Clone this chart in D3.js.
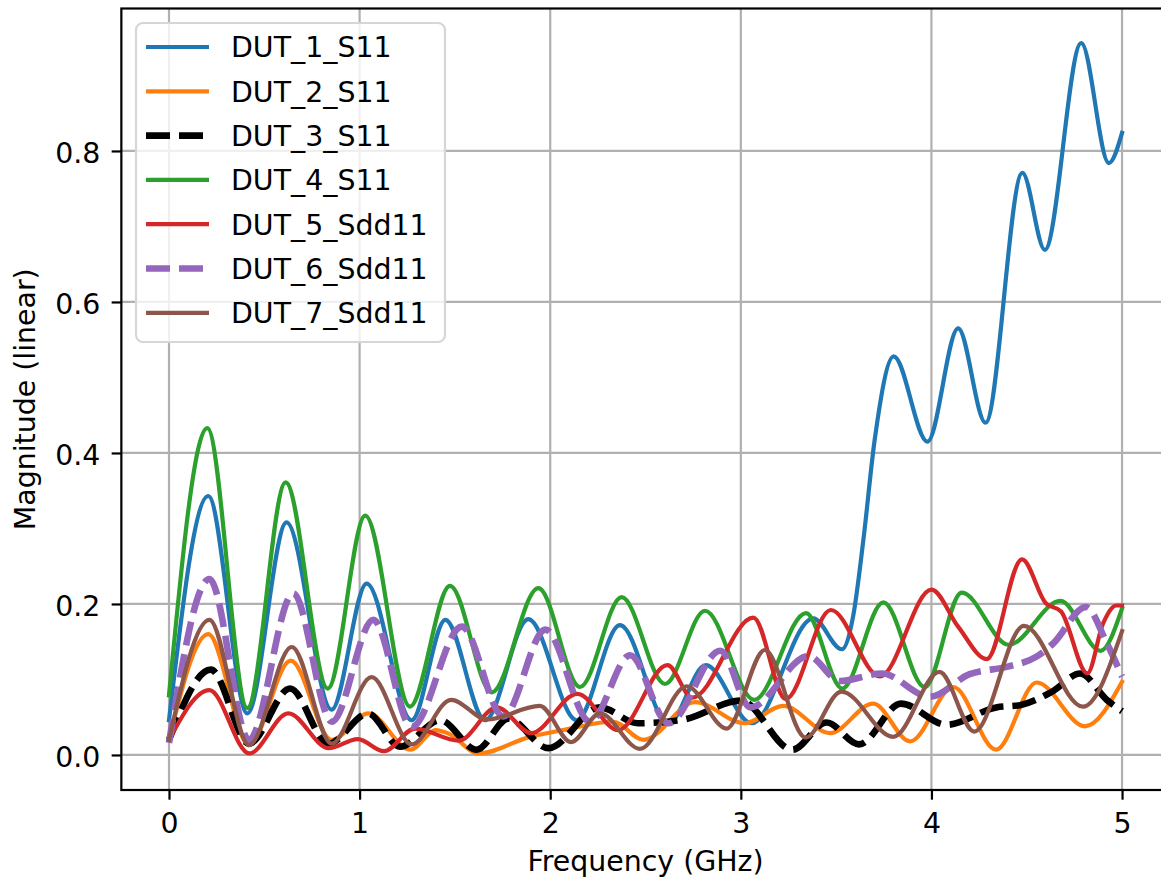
<!DOCTYPE html>
<html>
<head>
<meta charset="utf-8">
<script src="https://cdn.jsdelivr.net/npm/d3@7"></script>
<style>
  html, body { margin: 0; padding: 0; background: #ffffff; }
  svg { display: block; }
  text { font-family: "DejaVu Sans", sans-serif; fill: #000; }
</style>
</head>
<body>
<svg id="chart" width="1161" height="878"></svg>
<script>
// ---------------- data (frequency in GHz, linear magnitude) ----------------
const seriesNames = ["DUT_1_S11", "DUT_2_S11", "DUT_3_S11", "DUT_4_S11", "DUT_5_Sdd11", "DUT_6_Sdd11", "DUT_7_Sdd11"];

const DUT_1_S11 = [[0,0.046],[0.206,0.343],[0.411,0.055],[0.617,0.308],[0.853,0.060],[1.037,0.227],[1.273,0.046],[1.45,0.179],[1.658,0.046],[1.885,0.180],[2.139,0.046],[2.366,0.172],[2.62,0.042],[2.816,0.119],[3.057,0.042],[3.38,0.181],[3.53,0.140],[3.59,0.185],[3.643,0.285],[3.702,0.417],[3.802,0.528],[3.979,0.415],[4.140,0.565],[4.284,0.440],[4.477,0.771],[4.595,0.669],[4.786,0.943],[4.931,0.784],[5.0,0.824]];

const DUT_2_S11 = [[0,0.020],[0.206,0.160],[0.42,0.013],[0.638,0.125],[0.853,0.020],[1.046,0.055],[1.266,0.007],[1.40,0.033],[1.47,0.028],[1.623,0.002],[1.894,0.024],[2.067,0.033],[2.33,0.044],[2.49,0.020],[2.76,0.070],[3.02,0.042],[3.223,0.065],[3.468,0.029],[3.695,0.068],[3.888,0.018],[4.115,0.090],[4.339,0.007],[4.552,0.096],[4.806,0.038],[5.0,0.097]];

const DUT_3_S11 = [[0,0.020],[0.219,0.113],[0.42,0.015],[0.635,0.088],[0.836,0.015],[1.045,0.055],[1.212,0.011],[1.422,0.046],[1.614,0.007],[1.78,0.048],[1.99,0.009],[2.26,0.063],[2.46,0.042],[2.7,0.047],[3.0,0.072],[3.27,0.007],[3.45,0.043],[3.62,0.014],[3.84,0.068],[4.08,0.040],[4.34,0.063],[4.465,0.066],[4.64,0.085],[4.78,0.108],[4.92,0.073],[5.0,0.058]];

const DUT_4_S11 = [[0,0.079],[0.201,0.433],[0.411,0.062],[0.612,0.361],[0.833,0.088],[1.03,0.317],[1.264,0.064],[1.474,0.224],[1.693,0.083],[1.938,0.221],[2.156,0.090],[2.375,0.209],[2.602,0.094],[2.812,0.191],[3.07,0.073],[3.342,0.188],[3.532,0.088],[3.748,0.202],[3.965,0.090],[4.159,0.215],[4.405,0.146],[4.677,0.204],[4.887,0.138],[5.0,0.194]];

const DUT_5_Sdd11 = [[0,0.020],[0.212,0.086],[0.421,0.002],[0.626,0.055],[0.838,0.009],[0.99,0.021],[1.128,0.005],[1.29,0.035],[1.52,0.019],[1.72,0.063],[1.90,0.029],[2.142,0.081],[2.357,0.033],[2.615,0.119],[2.745,0.076],[3.066,0.182],[3.235,0.074],[3.472,0.192],[3.73,0.104],[4.0,0.219],[4.14,0.170],[4.29,0.127],[4.475,0.259],[4.60,0.201],[4.68,0.190],[4.818,0.108],[4.90,0.174],[4.97,0.198],[5.0,0.198]];

const DUT_6_Sdd11 = [[0,0.016],[0.212,0.233],[0.42,0.020],[0.652,0.214],[0.854,0.044],[1.072,0.179],[1.273,0.037],[1.536,0.170],[1.754,0.051],[1.975,0.166],[2.209,0.044],[2.419,0.132],[2.62,0.042],[2.893,0.138],[3.05,0.063],[3.355,0.131],[3.52,0.098],[3.74,0.108],[3.99,0.077],[4.2,0.107],[4.4,0.117],[4.55,0.130],[4.64,0.148],[4.81,0.196],[4.92,0.148],[5.0,0.104]];

const DUT_7_Sdd11 = [[0,0.020],[0.212,0.179],[0.42,0.013],[0.644,0.143],[0.854,0.015],[1.063,0.103],[1.273,0.014],[1.48,0.073],[1.67,0.047],[1.945,0.065],[2.11,0.017],[2.261,0.055],[2.471,0.008],[2.716,0.091],[2.926,0.035],[3.126,0.139],[3.34,0.023],[3.528,0.084],[3.80,0.024],[4.042,0.110],[4.225,0.031],[4.485,0.171],[4.795,0.064],[5.0,0.164]];

const seriesData = [DUT_1_S11, DUT_2_S11, DUT_3_S11, DUT_4_S11, DUT_5_Sdd11, DUT_6_Sdd11, DUT_7_Sdd11];
const seriesColors = ["#1f77b4", "#ff7f0e", "#000000", "#2ca02c", "#d62728", "#9467bd", "#8c564b"];
const seriesDashed = [false, false, true, false, false, true, false];

const xTicks = [0, 1, 2, 3, 4, 5];
const yTicks = [0.0, 0.2, 0.4, 0.6, 0.8];
const xLabel = "Frequency (GHz)";
const yLabel = "Magnitude (linear)";

// ---------------- layout ----------------
const FONT = 28.4;
const plot = { left: 121.35, right: 1169.7, top: 8.5, bottom: 790 };

const svg = d3.select("#chart");
const x = d3.scaleLinear().domain([-0.25, 5.25]).range([plot.left, plot.right]);
const y = d3.scaleLinear().domain([-0.0464, 0.9887]).range([plot.bottom, plot.top]);

// clip
svg.append("defs").append("clipPath").attr("id", "clip")
  .append("rect")
  .attr("x", plot.left).attr("y", plot.top)
  .attr("width", plot.right - plot.left).attr("height", plot.bottom - plot.top);

// grid
const grid = svg.append("g").attr("class", "grid");
grid.selectAll("line.gx").data(xTicks).join("line")
  .attr("x1", d => x(d)).attr("x2", d => x(d))
  .attr("y1", plot.top).attr("y2", plot.bottom)
  .attr("stroke", "#b0b0b0").attr("stroke-width", 2.2);
grid.selectAll("line.gy").data(yTicks).join("line")
  .attr("x1", plot.left).attr("x2", plot.right)
  .attr("y1", d => y(d)).attr("y2", d => y(d))
  .attr("stroke", "#b0b0b0").attr("stroke-width", 2.2);

// lines
const line = d3.line()
  .x(d => x(d[0]))
  .y(d => y(d[1]))
  .curve(d3.curveMonotoneX);

const linesG = svg.append("g").attr("clip-path", "url(#clip)");
seriesData.forEach((data, i) => {
  linesG.append("path")
    .datum(data)
    .attr("d", line)
    .attr("fill", "none")
    .attr("stroke", seriesColors[i])
    .attr("stroke-width", seriesDashed[i] ? 6.6 : 4.2)
    .attr("stroke-dasharray", seriesDashed[i] ? "24,9" : null)
    .attr("stroke-linejoin", "round")
    .attr("stroke-linecap", seriesDashed[i] ? "butt" : "square");
});

// axes
const xAxis = d3.axisBottom(x).tickValues(xTicks).tickFormat(d3.format("d"))
  .tickSize(9.7).tickPadding(13.3);
const gx = svg.append("g").attr("transform", `translate(0,${plot.bottom})`).call(xAxis);
gx.select(".domain").remove();
gx.selectAll(".tick line").attr("stroke", "#000").attr("stroke-width", 2.2);
gx.selectAll(".tick text").attr("font-size", FONT).attr("font-family", "DejaVu Sans").attr("fill", "#000");

const yAxis = d3.axisLeft(y).tickValues(yTicks).tickFormat(d3.format(".1f"))
  .tickSize(9.7).tickPadding(11.3);
const gy = svg.append("g").attr("transform", `translate(${plot.left},0)`).call(yAxis);
gy.select(".domain").remove();
gy.selectAll(".tick line").attr("stroke", "#000").attr("stroke-width", 2.2);
gy.selectAll(".tick text").attr("font-size", FONT).attr("font-family", "DejaVu Sans")
  .attr("fill", "#000").attr("dy", "0.39em");

// spines
svg.append("rect")
  .attr("x", plot.left).attr("y", plot.top)
  .attr("width", plot.right - plot.left).attr("height", plot.bottom - plot.top)
  .attr("fill", "none").attr("stroke", "#000").attr("stroke-width", 2.2);

// axis labels
svg.append("text")
  .attr("x", (plot.left + plot.right) / 2).attr("y", 870.5)
  .attr("text-anchor", "middle").attr("font-size", FONT)
  .text(xLabel);

svg.append("text")
  .attr("transform", `translate(35,${(plot.top + plot.bottom) / 2}) rotate(-90)`)
  .attr("text-anchor", "middle").attr("font-size", FONT)
  .text(yLabel);

// legend
const leg = svg.append("g");
leg.append("rect")
  .attr("x", 136).attr("y", 23).attr("width", 309).attr("height", 319)
  .attr("rx", 7).attr("ry", 7)
  .attr("fill", "#ffffff").attr("fill-opacity", 0.8)
  .attr("stroke", "#d6d6d6").attr("stroke-width", 2.2);

const rowY = i => 47 + i * 44.3;
seriesNames.forEach((name, i) => {
  leg.append("line")
    .attr("x1", 146).attr("x2", 209)
    .attr("y1", rowY(i)).attr("y2", rowY(i))
    .attr("stroke", seriesColors[i])
    .attr("stroke-width", seriesDashed[i] ? 6.6 : 4.2)
    .attr("stroke-dasharray", seriesDashed[i] ? "24,9" : null);
  leg.append("text")
    .attr("x", 231).attr("y", rowY(i)).attr("dy", "0.365em")
    .attr("font-size", FONT)
    .text(name);
});
</script>
</body>
</html>
